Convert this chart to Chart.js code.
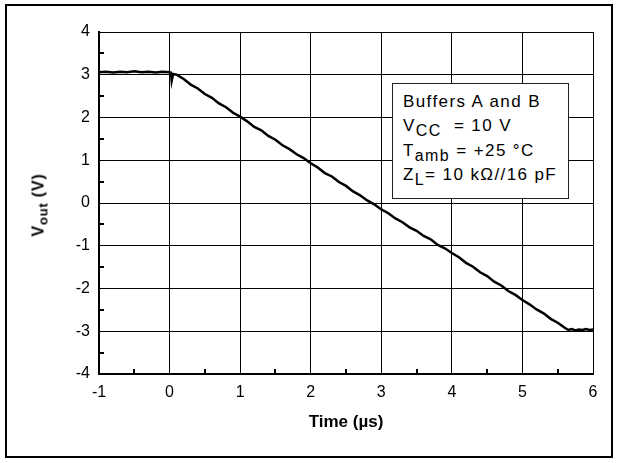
<!DOCTYPE html>
<html lang="en">
<head>
  <meta charset="UTF-8">
  <title>Vout vs time</title>
  <script src="https://cdn.jsdelivr.net/npm/chart.js"></script>
  <style>
    body {
      margin: 0;
      background: #fff;
      font-family: 'Liberation Sans', Arial, Helvetica, sans-serif;
      overflow: hidden;
    }
    .frame {
      position: absolute;
      left: 5px;
      top: 4px;
      width: 604px;
      height: 450px;
      border: 2px solid #000;
    }
    #chart {
      position: absolute;
      left: 0;
      top: 0;
    }
    /* rotated axis title with subscript */
    .ytitle {
      position: absolute;
      left: 40px;
      top: 205px;
      transform: translate(-50%, -50%) rotate(-90deg);
      font-weight: bold;
      font-size: 16px;
      letter-spacing: 0.8px;
      white-space: nowrap;
      color: #000;
    }
    .ytitle sub { font-size: 13px; vertical-align: -4px; }
    /* conditions box */
    .cond {
      position: absolute;
      left: 392px;
      top: 83px;
      width: 165px;
      height: 108px;
      padding-left: 10px;
      background: #fff;
      border: 1.5px solid #222;
      font-size: 17px;
      letter-spacing: 1.4px;
      color: #000;
      line-height: 24.4px;
      padding-top: 6px;
      box-sizing: content-box;
    }
    .cond div { white-space: nowrap; }
    .cond sub { font-size: 16px; vertical-align: -5px; line-height: 0; }
  </style>
</head>
<body>
  <div class="frame"></div>
  <canvas id="chart" width="618" height="463"></canvas>
  <div class="ytitle">V<sub>out</sub> (V)</div>
  <div class="cond">
    <div>Buffers A and B</div>
    <div>V<sub>CC</sub>&nbsp; = 10 V</div>
    <div>T<sub>amb</sub> = +25 °C</div>
    <div>Z<sub>L</sub>= 10 kΩ//16 pF</div>
  </div>

  <script>
    // output trace, time in µs
    const timeUs = [
      -1.0, -0.9, -0.8, -0.7, -0.6, -0.5, -0.4, -0.3, -0.2, -0.1, 0.0,
      0.02, 0.03, 0.05, 0.1,
      0.2, 0.3, 0.4, 0.5, 0.6, 0.7, 0.8, 0.9, 1.0,
      1.1, 1.2, 1.3, 1.4, 1.5, 1.6, 1.7, 1.8, 1.9, 2.0,
      2.1, 2.2, 2.3, 2.4, 2.5, 2.6, 2.7, 2.8, 2.9, 3.0,
      3.1, 3.2, 3.3, 3.4, 3.5, 3.6, 3.7, 3.8, 3.9, 4.0,
      4.1, 4.2, 4.3, 4.4, 4.5, 4.6, 4.7, 4.8, 4.9, 5.0,
      5.1, 5.2, 5.3, 5.4, 5.5, 5.6, 5.65,
      5.7, 5.75, 5.8, 5.85, 5.9, 5.95, 6.0
    ];
    const voutV = [
      3.06, 3.07, 3.05, 3.07, 3.06, 3.08, 3.06, 3.07, 3.05, 3.07, 3.06,
      3.05, 2.86, 3.02, 3.00,
      2.90, 2.77, 2.68, 2.55, 2.46, 2.33, 2.24, 2.11, 2.02,
      1.91, 1.78, 1.70, 1.57, 1.48, 1.35, 1.26, 1.14, 1.05, 0.93,
      0.83, 0.70, 0.62, 0.49, 0.40, 0.27, 0.18, 0.06, -0.03, -0.15,
      -0.24, -0.36, -0.45, -0.57, -0.65, -0.77, -0.85, -0.98, -1.06, -1.17,
      -1.27, -1.40, -1.49, -1.62, -1.71, -1.84, -1.93, -2.06, -2.15, -2.27,
      -2.37, -2.49, -2.58, -2.71, -2.80, -2.92, -2.97,
      -2.95, -2.98, -2.96, -2.97, -2.95, -2.97, -2.96
    ];

    const xRange = [-1, 6];
    const yRange = [-4, 4];
    const xMinorTicks = [-0.5, 0.5, 1.5, 2.5, 3.5, 4.5, 5.5];
    const yMinorTicks = [-3.5, -2.5, -1.5, -0.5, 0.5, 1.5, 2.5, 3.5];

    const points = timeUs.map((t, i) => ({ x: t, y: voutV[i] }));

    const FONT = "'Liberation Sans', Arial, Helvetica, sans-serif";

    // short inward ticks between the grid lines on the left and bottom axes
    const minorTicks = {
      id: 'minorTicks',
      afterDraw(chart) {
        const ctx = chart.ctx;
        const xs = chart.scales.x, ys = chart.scales.y;
        const area = chart.chartArea;
        ctx.save();
        ctx.strokeStyle = '#000';
        ctx.lineWidth = 2;
        ctx.beginPath();
        xMinorTicks.forEach(v => {
          const px = Math.round(xs.getPixelForValue(v));
          ctx.moveTo(px, area.bottom);
          ctx.lineTo(px, area.bottom - 5);
        });
        yMinorTicks.forEach(v => {
          const py = Math.round(ys.getPixelForValue(v));
          ctx.moveTo(area.left, py);
          ctx.lineTo(area.left + 5, py);
        });
        ctx.stroke();
        ctx.restore();
      }
    };

    new Chart(document.getElementById('chart'), {
      type: 'scatter',
      data: {
        datasets: [{
          data: points,
          showLine: true,
          borderColor: '#000',
          borderWidth: 2.5,
          pointRadius: 0,
          tension: 0
        }]
      },
      options: {
        responsive: false,
        animation: false,
        layout: { padding: { left: 0, right: 25, top: 32, bottom: 26 } },
        plugins: {
          legend: { display: false },
          tooltip: { enabled: false }
        },
        scales: {
          x: {
            type: 'linear',
            min: xRange[0],
            max: xRange[1],
            afterFit: s => { s.height = 63; },
            ticks: {
              stepSize: 1,
              padding: 9,
              color: '#000',
              font: { family: FONT, size: 16 }
            },
            grid: { color: '#000', lineWidth: 1, drawTicks: false },
            border: { color: '#000', width: 2 },
            title: {
              display: true,
              text: 'Time (µs)',
              color: '#000',
              font: { family: FONT, size: 17, weight: 'bold' },
              padding: { top: 14 }
            }
          },
          y: {
            type: 'linear',
            min: yRange[0],
            max: yRange[1],
            afterFit: s => { s.width = 99; },
            ticks: {
              stepSize: 1,
              padding: 9,
              color: '#000',
              font: { family: FONT, size: 16 }
            },
            grid: { color: '#000', lineWidth: 1, drawTicks: false },
            border: { color: '#000', width: 2 }
          }
        }
      },
      plugins: [minorTicks]
    });
  </script>
</body>
</html>
